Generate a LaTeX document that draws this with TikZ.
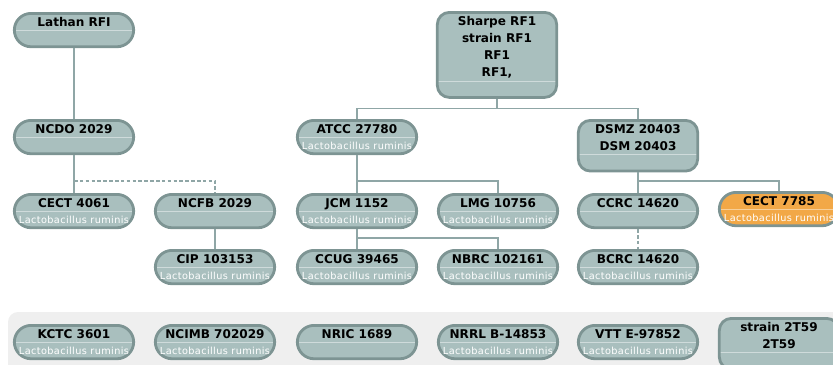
\documentclass[tikz,border=0pt]{standalone}
\usepackage{fontspec}
\setmainfont{DejaVu Sans}
\newfontfamily\speciesfont[LetterSpace=4]{DejaVu Sans}

\definecolor{boxfill}{HTML}{A9BFBE}
\definecolor{boxline}{HTML}{7D9493}
\definecolor{orangefill}{HTML}{F2A847}
\definecolor{wire}{HTML}{8FA6A6}
\definecolor{band}{HTML}{EFEFEF}

\begin{document}
\begin{tikzpicture}[x=0.03cm, y=-0.03cm,
    strain/.style={draw=boxline, line width=2.4pt, fill=boxfill, anchor=north,
        rounded corners=0.5cm, minimum width=3.58cm, minimum height=1cm, inner sep=0pt,
        path picture={\draw[white, opacity=0.45, line width=0.8pt]
            ([yshift=0.49cm]path picture bounding box.south west) --
            ([yshift=0.49cm]path picture bounding box.south east);}},
    tall/.style={strain, rounded corners=0.36cm, minimum height=1.52cm},
    taller/.style={strain, rounded corners=0.36cm, minimum height=2.55cm},
    idtext/.style={font=\bfseries\fontsize{10.3}{14.5}\selectfont, align=center,
        inner sep=0pt, anchor=north, yshift=-4.6pt},
    species/.style={font=\speciesfont\fontsize{8.3}{9}\selectfont, text=white,
        inner sep=0pt, anchor=center, yshift=0.27cm},
    ruminis/.style={label={[species]south:Lactobacillus ruminis}},
    stem/.style={draw=wire, line width=2.2pt},
    branch/.style={draw=wire, line width=1pt}]

    \useasboundingbox (0,0) rectangle (833,365);
    \clip (0,0) rectangle (833,365);

    % Banda in basso
    \fill[band, rounded corners=0.3cm] (8,312) rectangle (860,390);

    % Albero di sinistra
    \node[strain, label={[idtext]north:Lathan RFI}] (lathan) at (74,12) {};
    \node[strain, label={[idtext]north:NCDO 2029}] (ncdo) at (74,119) {};
    \node[strain, ruminis, label={[idtext]north:CECT 4061}] (cect4061) at (74,193) {};
    \node[strain, label={[idtext]north:NCFB 2029}] (ncfb) at (215,193) {};
    \node[strain, ruminis, label={[idtext]north:CIP 103153}] (cip) at (215,249) {};

    % Albero di destra
    \node[taller, label={[idtext]north:{Sharpe RF1\\strain RF1\\RF1\\RF1,}}] (sharpe) at (497,11) {};
    \node[strain, ruminis, label={[idtext]north:ATCC 27780}] (atcc) at (357,119) {};
    \node[tall, label={[idtext]north:{DSMZ 20403\\DSM 20403}}] (dsmz) at (638,119) {};
    \node[strain, ruminis, label={[idtext]north:JCM 1152}] (jcm) at (357,193) {};
    \node[strain, ruminis, label={[idtext]north:LMG 10756}] (lmg) at (498,193) {};
    \node[strain, ruminis, label={[idtext]north:CCUG 39465}] (ccug) at (357,249) {};
    \node[strain, ruminis, label={[idtext]north:NBRC 102161}] (nbrc) at (498,249) {};
    \node[strain, label={[idtext]north:CCRC 14620}] (ccrc) at (638,193) {};
    \node[strain, ruminis, fill=orangefill, label={[idtext]north:CECT 7785}] (cect7785) at (779,191) {};
    \node[strain, ruminis, label={[idtext]north:BCRC 14620}] (bcrc) at (638,249) {};

    % Ceppi senza legami
    \node[strain, ruminis, label={[idtext]north:KCTC 3601}] (kctc) at (74,324) {};
    \node[strain, ruminis, label={[idtext]north:NCIMB 702029}] (ncimb) at (215,324) {};
    \node[strain, label={[idtext]north:NRIC 1689}] (nric) at (357,324) {};
    \node[strain, ruminis, label={[idtext]north:NRRL B-14853}] (nrrl) at (498,324) {};
    \node[strain, ruminis, label={[idtext]north:VTT E-97852}] (vtt) at (638,324) {};
    \node[tall, label={[idtext]north:{strain 2T59\\2T59}}] (strain2t59) at (779,317) {};

    % Collegamenti
    \draw[stem] (lathan.south) -- (ncdo.north);
    \draw[stem] (ncdo.south) -- (cect4061.north);
    \draw[stem, dash pattern=on 3pt off 2pt] (cect4061.north) ++(0,-12) -| (ncfb.north);
    \draw[stem] (ncfb.south) -- (cip.north);
    \draw[branch] (sharpe.south) -- ++(0,10) coordinate (sharpefork);
    \draw[branch] (sharpefork) -| (atcc.north);
    \draw[branch] (sharpefork) -| (dsmz.north);
    \draw[stem] (atcc.south) -- (jcm.north);
    \draw[branch] (jcm.north) ++(0,-12) -| (lmg.north);
    \draw[stem] (jcm.south) -- (ccug.north);
    \draw[branch] (ccug.north) ++(0,-11) -| (nbrc.north);
    \draw[stem] (dsmz.south) -- (ccrc.north);
    \draw[branch] (ccrc.north) ++(0,-12) -| (cect7785.north);
    \draw[stem, dash pattern=on 3pt off 2pt] (ccrc.south) -- (bcrc.north);
\end{tikzpicture}
\end{document}
